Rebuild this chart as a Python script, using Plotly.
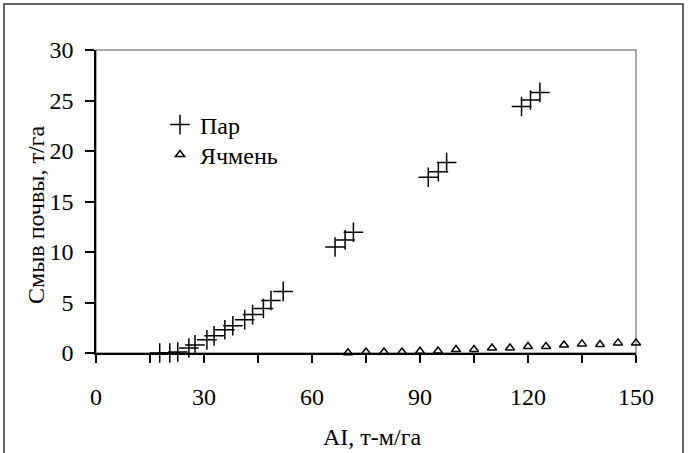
import plotly.graph_objects as go

# ---- data ----
par_x = [17.7, 20.5, 22.7, 25.8, 27.5, 30.8, 32.8, 35.8, 38.0, 41.3, 43.5, 46.5, 48.6, 52.0,
         66.4, 69.2, 71.5, 92.3, 95.1, 97.4, 118.2, 120.7, 123.3]
par_y = [0.0, 0.0, 0.1, 0.5, 0.8, 1.3, 1.7, 2.3, 2.7, 3.3, 3.8, 4.4, 5.2, 6.1,
         10.5, 11.2, 11.95, 17.4, 17.95, 18.85, 24.4, 25.05, 25.8]

barley_x = [70, 75, 80, 85, 90, 95, 100, 105, 110, 115, 120, 125, 130, 135, 140, 145, 150]
barley_y = [0.02, 0.1, 0.1, 0.1, 0.18, 0.2, 0.35, 0.35, 0.5, 0.5, 0.65, 0.65, 0.8, 0.9, 0.85, 1.0, 1.0]

x_ticks = [0, 30, 60, 90, 120, 150]
y_ticks = [0, 5, 10, 15, 20, 25, 30]

series_names = ["Пар", "Ячмень"]
x_title = "AI, т-м/га"
y_title = "Смыв почвы, т/га"

FONT = "Liberation Serif"
FS = 24

W, H = 688, 453
L, R, T, B = 96, 636, 50, 353   # plot-area pixel bounds


def px(xp):
    return (xp - L) / (R - L)


def py(yp):
    return (B - yp) / (B - T)


fig = go.Figure()
fig.add_trace(go.Scatter(
    x=par_x, y=par_y, mode="markers", name=series_names[0], legend="legend",
    marker=dict(symbol="cross-thin-open", size=14, color="black",
                line=dict(color="black", width=1.5)),
    cliponaxis=False,
))
fig.add_trace(go.Scatter(
    x=barley_x, y=barley_y, mode="markers", name=series_names[1], legend="legend2",
    marker=dict(symbol="triangle-up-open", size=8, color="black",
                line=dict(color="black", width=1.5)),
    cliponaxis=False,
))

leg_common = dict(xanchor="left", yanchor="middle", bgcolor="rgba(0,0,0,0)",
                  font=dict(family=FONT, size=FS, color="black"), itemwidth=30)

fig.update_layout(
    width=W, height=H,
    margin=dict(l=L, r=W - R, t=T, b=H - B),
    paper_bgcolor="white", plot_bgcolor="white",
    font=dict(family=FONT, size=FS, color="black"),
    showlegend=True,
    legend=dict(x=px(160), y=py(125), **leg_common),
    legend2=dict(x=px(160), y=py(155), **leg_common),
    xaxis=dict(
        range=[0, 150], tickvals=x_ticks, ticktext=[str(v) for v in x_ticks],
        showgrid=False, zeroline=False,
        showline=True, linecolor="black", linewidth=1.5,
        ticks="outside", ticklen=8, tickwidth=1.5, tickcolor="black",
        ticklabelstandoff=13,
        minor=dict(dtick=15, tick0=0, ticks="outside", ticklen=8, tickwidth=1.5, tickcolor="black"),
        tickfont=dict(family=FONT, size=FS, color="black"),
    ),
    yaxis=dict(
        range=[0, 30], tickvals=y_ticks, ticktext=[str(v) for v in y_ticks],
        showgrid=False, zeroline=False,
        showline=True, linecolor="black", linewidth=1.5,
        ticks="outside", ticklen=9, tickwidth=1.5, tickcolor="black",
        ticklabelstandoff=7,
        tickfont=dict(family=FONT, size=FS, color="black"),
    ),
    shapes=[
        dict(type="rect", xref="paper", yref="paper", x0=0, y0=0, x1=1, y1=1,
             line=dict(color="#8c8c8c", width=1.5), layer="below"),
        dict(type="rect", xref="paper", yref="paper",
             x0=px(4), x1=px(683), y0=py(470), y1=py(4),
             line=dict(color="#333333", width=1.5), layer="below"),
    ],
    annotations=[
        dict(text=x_title, xref="paper", yref="paper", x=px(372), y=py(437),
             xanchor="center", yanchor="middle", showarrow=False,
             font=dict(family=FONT, size=FS, color="black")),
        dict(text=y_title, xref="paper", yref="paper", x=px(36), y=py(215),
             xanchor="center", yanchor="middle", showarrow=False, textangle=-90,
             font=dict(family=FONT, size=FS, color="black")),
    ],
)

fig.write_html("out.html")
